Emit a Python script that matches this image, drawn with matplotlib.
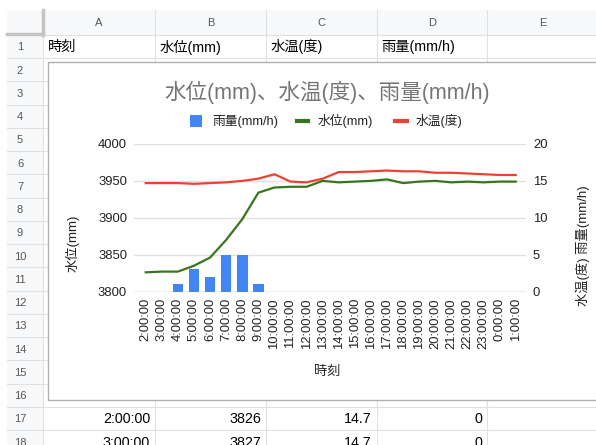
import matplotlib.pyplot as plt
from matplotlib.patches import Rectangle
from matplotlib.lines import Line2D

plt.rcParams['font.family'] = ['Liberation Sans', 'Noto Sans CJK JP']

# 時刻ごとの観測値
times = ['2:00:00', '3:00:00', '4:00:00', '5:00:00', '6:00:00', '7:00:00',
         '8:00:00', '9:00:00', '10:00:00', '11:00:00', '12:00:00', '13:00:00',
         '14:00:00', '15:00:00', '16:00:00', '17:00:00', '18:00:00', '19:00:00',
         '20:00:00', '21:00:00', '22:00:00', '23:00:00', '0:00:00', '1:00:00']
water_level = [3826, 3827, 3827, 3835, 3846, 3870, 3898, 3934, 3941, 3942,
               3942, 3950, 3948, 3949, 3950, 3952, 3947, 3949, 3950, 3948,
               3949, 3948, 3949, 3949]
water_temp = [14.7, 14.7, 14.7, 14.6, 14.7, 14.8, 15.0, 15.3, 15.9, 14.9,
              14.8, 15.3, 16.2, 16.2, 16.3, 16.4, 16.3, 16.3, 16.1, 16.1,
              16.0, 15.9, 15.8, 15.8]
rainfall = [0, 0, 1, 3, 2, 5, 5, 1, 0, 0, 0, 0,
            0, 0, 0, 0, 0, 0, 0, 0, 0, 0, 0, 0]

col_letters = ['A', 'B', 'C', 'D', 'E']
header_cells = ['時刻', '水位(mm)', '水温(度)', '雨量(mm/h)']

BLUE = '#4285f4'
GREEN = '#38761d'
RED = '#ee4035'
W, H = 596, 445

fig = plt.figure(figsize=(W / 100, H / 100), dpi=100)

# シートの背景（ピクセル座標）
bg = fig.add_axes([0, 0, 1, 1])
bg.set_xlim(0, W)
bg.set_ylim(H, 0)
bg.axis('off')

col_edges = [43, 155, 266, 377, 487, 598]
row_edges = [35, 58] + [58 + 23.25 * k for k in range(1, 18)]

bg.add_patch(Rectangle((7, 10), 36, H, color='#f8f9fa', lw=0))
bg.add_patch(Rectangle((7, 10), W, 25, color='#f8f9fa', lw=0))
for x in col_edges:
    bg.plot([x, x], [10, H], color='#e1e1e1', lw=0.8)
for y in row_edges:
    bg.plot([7, W], [y, y], color='#e1e1e1', lw=0.8)
bg.plot([43, 43], [10, 35], color='#c4c4c4', lw=2.5)
bg.plot([7, 43], [34, 34], color='#c4c4c4', lw=2.5)

for i, letter in enumerate(col_letters):
    bg.text((col_edges[i] + col_edges[i + 1]) / 2, 23, letter,
            ha='center', va='center', fontsize=8, color='#555555')
for r in range(len(row_edges) - 1):
    bg.text(20, (row_edges[r] + row_edges[r + 1]) / 2 + 1, str(r + 1),
            ha='center', va='center', fontsize=8, color='#555555')

for i, label in enumerate(header_cells):
    bg.text(col_edges[i] + 4.5, 47, label, ha='left', va='center',
            fontsize=10.3, color='#000000')

# 17行目以降の表データ
for r in range(2):
    y = (row_edges[16 + r] + row_edges[17 + r]) / 2 + 1
    cells = [times[r], str(water_level[r]), f'{water_temp[r]:.1f}', str(rainfall[r])]
    for i, val in enumerate(cells):
        bg.text(col_edges[i + 1] - 5, y, val, ha='right', va='center',
                fontsize=10.3, color='#000000')

# グラフ領域
bg.add_patch(Rectangle((48, 62), 600, 338, fc='white', ec='#b0b0b0', lw=1, zorder=3))

bg.text(327, 92, '水位(mm)、水温(度)、雨量(mm/h)', ha='center', va='center',
        fontsize=15.5, color='#757575', zorder=4)

# 凡例
bg.add_patch(Rectangle((190, 115), 12, 12, color=BLUE, lw=0, zorder=4))
bg.text(212, 121, '雨量(mm/h)', ha='left', va='center', fontsize=9.2, color='#222222', zorder=4)
bg.add_line(Line2D([297, 308], [121, 121], color=GREEN, lw=3, zorder=4))
bg.text(318, 121, '水位(mm)', ha='left', va='center', fontsize=9.2, color='#222222', zorder=4)
bg.add_line(Line2D([395, 407], [121, 121], color=RED, lw=3, zorder=4))
bg.text(416, 121, '水温(度)', ha='left', va='center', fontsize=9.2, color='#222222', zorder=4)

bg.text(73, 243, '水位(mm)', rotation=90, ha='center', va='center',
        fontsize=9.5, color='#222222', zorder=4)
bg.text(583, 246, '水温(度) 雨量(mm/h)', rotation=90, ha='center', va='center',
        fontsize=9.5, color='#222222', zorder=4)
bg.text(327, 372, '時刻', ha='center', va='center',
        fontsize=9.5, color='#222222', zorder=4)

# プロットエリア
left, right, top, bottom = 134, 526, 144, 291.5
ax2 = fig.add_axes([left / W, 1 - bottom / H, (right - left) / W, (bottom - top) / H])
ax = ax2.twinx()
ax.yaxis.tick_left()
ax2.yaxis.tick_right()

x = list(range(len(times)))

ax2.bar(x, rainfall, width=0.66, color=BLUE, zorder=2)
ax2.plot(x, water_temp, color=RED, lw=1.6, zorder=3)
ax.plot(x, water_level, color=GREEN, lw=1.6)

ax2.set_ylim(0, 20)
ax2.set_yticks([0, 5, 10, 15, 20])
ax.set_ylim(3800, 4000)
ax.set_yticks([3800, 3850, 3900, 3950, 4000])
ax2.set_xlim(-0.73, 23.64)
ax2.set_xticks(x)
ax2.set_xticklabels(times, rotation=90)

ax2.grid(axis='y', color='#e0e0e0', lw=1, zorder=0)
ax2.axhline(0, color='#c8c8c8', lw=1, zorder=1)
ax2.set_axisbelow(True)

for a in (ax, ax2):
    for s in a.spines.values():
        s.set_visible(False)
    a.tick_params(length=0, labelsize=9.4, colors='#222222')
ax.tick_params(axis='y', pad=5)
ax2.tick_params(axis='y', pad=5)
ax2.tick_params(axis='x', pad=4.7)
ax.patch.set_visible(False)

fig.savefig('out.png', dpi=100)
